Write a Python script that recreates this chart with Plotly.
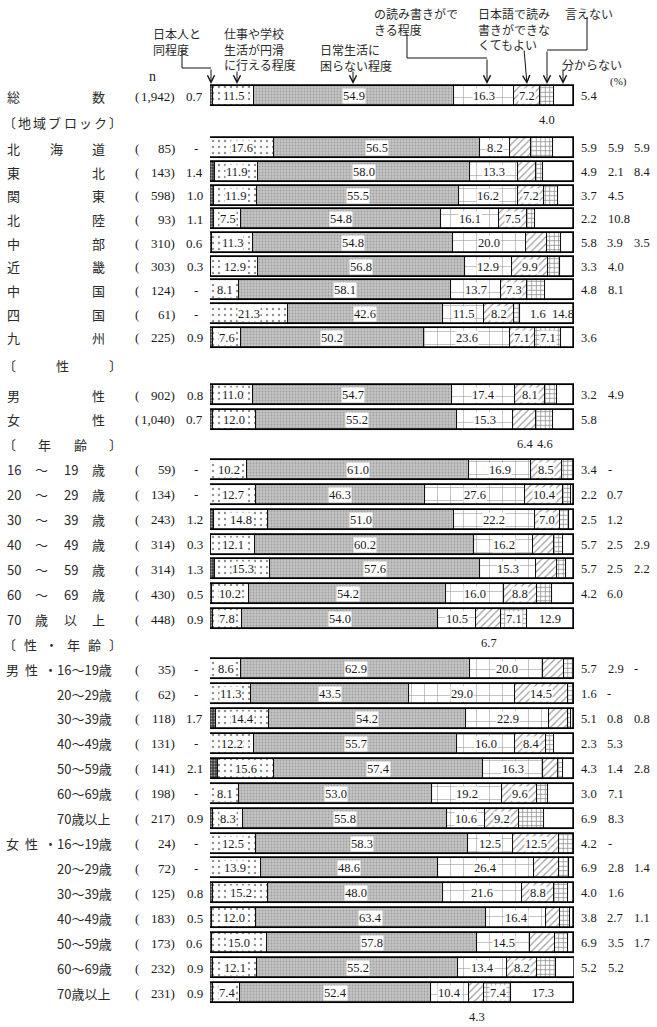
import plotly.graph_objects as go

# ---------------- data ----------------
CATEGORIES = [
    "総 数",
    "北 海 道", "東 北", "関 東", "北 陸", "中 部", "近 畿", "中 国", "四 国", "九 州",
    "男 性", "女 性",
    "16 ～ 19 歳", "20 ～ 29 歳", "30 ～ 39 歳", "40 ～ 49 歳", "50 ～ 59 歳", "60 ～ 69 歳", "70 歳 以 上",
    "男性・16～19歳", "20～29歳", "30～39歳", "40～49歳", "50～59歳", "60～69歳", "70歳以上",
    "女性・16～19歳", "20～29歳", "30～39歳", "40～49歳", "50～59歳", "60～69歳", "70歳以上",
]
N_SIZE = ["1,942", "85", "143", "598", "93", "310", "303", "124", "61", "225",
          "902", "1,040",
          "59", "134", "243", "314", "314", "430", "448",
          "35", "62", "118", "131", "141", "198", "217",
          "24", "72", "125", "183", "173", "232", "231"]

SERIES_NAMES = ["日本人と同程度", "仕事や学校生活が円滑に行える程度", "日常生活に困らない程度",
                "日本語の読み書きができる程度", "日本語で読み書きができなくてもよい",
                "一概に言えない", "分からない"]

S_SAME = [0.7, 0, 1.4, 1.0, 1.1, 0.6, 0.3, 0, 0, 0.9, 0.8, 0.7,
          0, 0, 1.2, 0.3, 1.3, 0.5, 0.9, 0, 0, 1.7, 0, 2.1, 0, 0.9,
          0, 0, 0.8, 0.5, 0.6, 0.9, 0.9]
S_WORK = [11.5, 17.6, 11.9, 11.9, 7.5, 11.3, 12.9, 8.1, 21.3, 7.6, 11.0, 12.0,
          10.2, 12.7, 14.8, 12.1, 15.3, 10.2, 7.8, 8.6, 11.3, 14.4, 12.2, 15.6, 8.1, 8.3,
          12.5, 13.9, 15.2, 12.0, 15.0, 12.1, 7.4]
S_DAILY = [54.9, 56.5, 58.0, 55.5, 54.8, 54.8, 56.8, 58.1, 42.6, 50.2, 54.7, 55.2,
           61.0, 46.3, 51.0, 60.2, 57.6, 54.2, 54.0, 62.9, 43.5, 54.2, 55.7, 57.4, 53.0, 55.8,
           58.3, 48.6, 48.0, 63.4, 57.8, 55.2, 52.4]
S_RW = [16.3, 8.2, 13.3, 16.2, 16.1, 20.0, 12.9, 13.7, 11.5, 23.6, 17.4, 15.3,
        16.9, 27.6, 22.2, 16.2, 15.3, 16.0, 10.5, 20.0, 29.0, 22.9, 16.0, 16.3, 19.2, 10.6,
        12.5, 26.4, 21.6, 16.4, 14.5, 13.4, 10.4]
S_NORW = [7.2, 5.9, 4.9, 7.2, 7.5, 5.8, 9.9, 7.3, 8.2, 7.1, 8.1, 6.4,
          8.5, 10.4, 7.0, 5.7, 5.7, 8.8, 6.7, 5.7, 14.5, 5.1, 8.4, 4.3, 9.6, 9.2,
          12.5, 6.9, 8.8, 3.8, 6.9, 8.2, 4.3]
S_CANT = [4.0, 5.9, 2.1, 3.7, 2.2, 3.9, 3.3, 4.8, 1.6, 7.1, 3.2, 4.6,
          3.4, 2.2, 2.5, 2.5, 2.5, 4.2, 7.1, 2.9, 1.6, 0.8, 2.3, 1.4, 3.0, 6.9,
          4.2, 2.8, 4.0, 2.7, 3.5, 5.2, 7.4]
S_DK = [5.4, 5.9, 8.4, 4.5, 10.8, 3.5, 4.0, 8.1, 14.8, 3.6, 4.9, 5.8,
        0, 0.7, 1.2, 2.9, 2.2, 6.0, 12.9, 0, 0, 0.8, 5.3, 2.8, 7.1, 8.3,
        0, 1.4, 1.6, 1.1, 1.7, 5.2, 17.3]
SERIES = [S_SAME, S_WORK, S_DAILY, S_RW, S_NORW, S_CANT, S_DK]

GROUP_HEADERS = ["〔 地 域 ブ ロ ッ ク 〕", "〔 性 〕", "〔 年 齢 〕", "〔 性 ・ 年 齢 〕"]

TOP_LABELS = ["日本人と<br>同程度", "仕事や学校<br>生活が円滑<br>に行える程度", "日常生活に<br>困らない程度",
              "の読み書きがで<br>きる程度", "日本語で読み<br>書きができな<br>くてもよい", "言えない", "分からない"]

# ---------------- layout constants ----------------
W, H = 657, 1027
BAR_L, BAR_R = 210, 574
ROW0_PX = 96
LAST_PX = 993
REGION_SLOTS = [round(2.1 + 0.95 * j, 3) for j in range(9)]
DATA_SLOTS = [0] + REGION_SLOTS + [12, 13] + list(range(15, 22)) + list(range(23, 37))
HEADER_SLOTS = [1.05, 10.8, 14, 22]
PITCH = (LAST_PX - ROW0_PX) / DATA_SLOTS[-1]
BAR_W = 20 / PITCH

JP = "Noto Sans CJK JP"
NUM = "Liberation Serif, Noto Sans CJK JP"
TXT = "#1a1a1a"
JPC = "#2a2a2a"

LABEL_OVERRIDES = {"総 数": {5: "below"}, "女 性": {4: "below", 5: "below"},
                   "四 国": {5: "end", 6: "end"}}

STYLES = [
    dict(color="#3a3a3a", pattern=dict(shape=".", fgcolor="white", size=3, solidity=0.35, fillmode="overlay")),
    dict(color="white", pattern=dict(shape=".", fgcolor="#222", size=6, solidity=0.12, fillmode="overlay")),
    dict(color="#c4c4c4", pattern=dict(shape=".", fgcolor="#7c7c7c", size=3, solidity=0.3, fillmode="overlay")),
    dict(color="white", pattern=dict(shape="+", fgcolor="#222", size=13, solidity=0.08, fillmode="overlay")),
    dict(color="white", pattern=dict(shape="/", fgcolor="#333", size=5, solidity=0.22, fillmode="overlay")),
    dict(color="white", pattern=dict(shape="+", fgcolor="#111", size=4.5, solidity=0.3, fillmode="overlay")),
    dict(color="white"),
]


def pxx(x):
    return x / W


def pxy(y):
    return 1 - y / H


def fmt(v):
    return "-" if v == 0 else f"{v:.1f}"


n_rows = len(CATEGORIES)
fig = go.Figure()

bases = [[0.0] * n_rows]
for k in range(1, 7):
    bases.append([round(bases[k - 1][i] + SERIES[k - 1][i], 4) for i in range(n_rows)])
totals = [round(bases[6][i] + SERIES[6][i], 4) for i in range(n_rows)]

for k in range(7):
    st = STYLES[k]
    marker = dict(color=st["color"], line=dict(color="black", width=0.9))
    if "pattern" in st:
        marker["pattern"] = st["pattern"]
    fig.add_trace(go.Bar(
        y=DATA_SLOTS, x=SERIES[k], base=bases[k], orientation="h", width=BAR_W,
        marker=marker, name=SERIES_NAMES[k], hoverinfo="skip", showlegend=False))

fig.add_trace(go.Bar(
    y=DATA_SLOTS, x=totals, base=[0] * n_rows, orientation="h", width=BAR_W,
    marker=dict(color="rgba(0,0,0,0)", line=dict(color="black", width=1.7)),
    hoverinfo="skip", showlegend=False))

ann = []


def add_text(text, x, y, xref="paper", yref="y", xanchor="left", size=13, family=JP, color=None, **kw):
    d = dict(text=text, x=x, y=y, xref=xref, yref=yref, xanchor=xanchor, yanchor="middle",
             showarrow=False,
             font=dict(family=family, size=size, color=color or (JPC if family == JP else TXT)))
    d.update(kw)
    ann.append(d)


def spread(parts, y, x0, x1, size=13):
    n = len(parts)
    for j, p in enumerate(parts):
        x = x0 if n == 1 else x0 + (x1 - x0) * j / (n - 1)
        add_text(p, pxx(x), y, size=size)


# row labels
for i, cat in enumerate(CATEGORIES):
    y = DATA_SLOTS[i]
    if "・" in cat:
        pre, rest = cat.split("・")
        add_text(pre[0], pxx(4), y)
        add_text(pre[1], pxx(23), y)
        add_text("・", pxx(42), y)
        add_text(rest, pxx(55), y)
    elif " " in cat:
        spread(cat.split(" "), y, 5, 90)
    else:
        add_text(cat, pxx(55), y)
    # n
    add_text("(", pxx(133), y, family=NUM)
    add_text(N_SIZE[i] + ")", pxx(177), y, xanchor="right", family=NUM)

for s, h in zip(HEADER_SLOTS, GROUP_HEADERS):
    spread(h.split(" "), s, 1, 107)

# segment value labels
for i, cat in enumerate(CATEGORIES):
    y = DATA_SLOTS[i]
    vals = [SERIES[k][i] for k in range(7)]
    end_x = min(totals[i], 100)
    modes = [None] * 7
    modes[0] = "left"
    for k in (1, 2, 3):
        modes[k] = "in"
    for k in (4, 5):
        modes[k] = "in" if vals[k] >= 7.0 else "out"
    modes[6] = "in" if vals[6] >= 12.0 else "out"
    for k in range(4, 7):
        if modes[k] == "out":
            modes[k] = "below" if any(modes[j] == "in" for j in range(k + 1, 7)) else "right"
    for k, m in LABEL_OVERRIDES.get(cat, {}).items():
        modes[k] = m

    # left value
    if vals[0] == 0:
        add_text("-", pxx(196), y, xanchor="center", family=NUM)
    else:
        add_text(fmt(vals[0]), pxx(205), y, xanchor="right", family=NUM)

    r_idx = 0
    end_ks = [k for k in range(7) if modes[k] == "end"]
    for k in range(1, 7):
        mid = bases[k][i] + vals[k] / 2
        m = modes[k]
        if m == "in":
            add_text(fmt(vals[k]), mid, y, xref="x", xanchor="center", family=NUM, size=12.5,
                     bgcolor="white", borderpad=0)
        elif m == "below":
            add_text(fmt(vals[k]), mid, y + 0.95, xref="x", xanchor="center", family=NUM, size=12.5)
        elif m == "right":
            add_text(fmt(vals[k]), end_x, y, xref="x", xanchor="left", family=NUM, size=12.5,
                     xshift=5 + 26.5 * r_idx)
            r_idx += 1
        elif m == "end":
            pos = len(end_ks) - 1 - end_ks.index(k)
            add_text(fmt(vals[k]), end_x, y, xref="x", xanchor="right", family=NUM, size=12.5,
                     xshift=2 - 28 * pos)

# header texts at top
TOP_POS = [(151, 23), (222, 23), (318, 39), (372, 3), (476, 3), (563, 3), (560, 54)]
for t, (x, y) in zip(TOP_LABELS, TOP_POS):
    ann.append(dict(text=t, x=pxx(x), y=pxy(y), xref="paper", yref="paper", xanchor="left",
                    yanchor="top", align="left", showarrow=False,
                    font=dict(family=JP, size=12, color=JPC)))

ann.append(dict(text="n", x=pxx(152), y=pxy(77), xref="paper", yref="paper", xanchor="center",
                yanchor="middle", showarrow=False, font=dict(family=NUM, size=14, color=TXT)))
ann.append(dict(text="(%)", x=pxx(608), y=pxy(81), xref="paper", yref="paper", xanchor="left",
                yanchor="middle", showarrow=False, font=dict(family=NUM, size=11, color=TXT)))

# arrows (tip x, tip y, tail x, tail y)
ARROWS = [(211, 84, 211, 68), (237, 84, 237, 70), (353, 84, 353, 70), (487, 84, 487, 58),
          (527, 84, 524, 49), (547, 84, 547, 50), (563, 84, 563, 68)]
for tx, ty, sx, sy in ARROWS:
    ann.append(dict(text="", x=pxx(tx), y=pxy(ty), xref="paper", yref="paper", showarrow=True,
                    ax=sx - tx, ay=sy - ty, arrowhead=5, arrowsize=1.4, arrowwidth=1,
                    arrowcolor="#111", standoff=0))

shapes = []
CONNECTORS = [[(182, 50), (182, 68), (211, 68)],
              [(407, 34), (407, 58), (487, 58)],
              [(587, 17), (587, 50), (547, 50)]]
for pts in CONNECTORS:
    path = "M " + " L ".join(f"{pxx(x):.5f},{pxy(y):.5f}" for x, y in pts)
    shapes.append(dict(type="path", path=path, xref="paper", yref="paper",
                       line=dict(color="#111", width=1)))

y_top = -ROW0_PX / PITCH
y_bot = (H - ROW0_PX) / PITCH

fig.update_layout(
    width=W, height=H, margin=dict(l=0, r=0, t=0, b=0, pad=0),
    paper_bgcolor="white", plot_bgcolor="white",
    barmode="overlay", bargap=0,
    xaxis=dict(domain=[BAR_L / W, BAR_R / W], range=[0, 100], visible=False, fixedrange=True),
    yaxis=dict(domain=[0, 1], range=[y_bot, y_top], visible=False, fixedrange=True),
    annotations=ann, shapes=shapes, showlegend=False,
)

fig.write_html("out.html", config=dict(displayModeBar=False))
